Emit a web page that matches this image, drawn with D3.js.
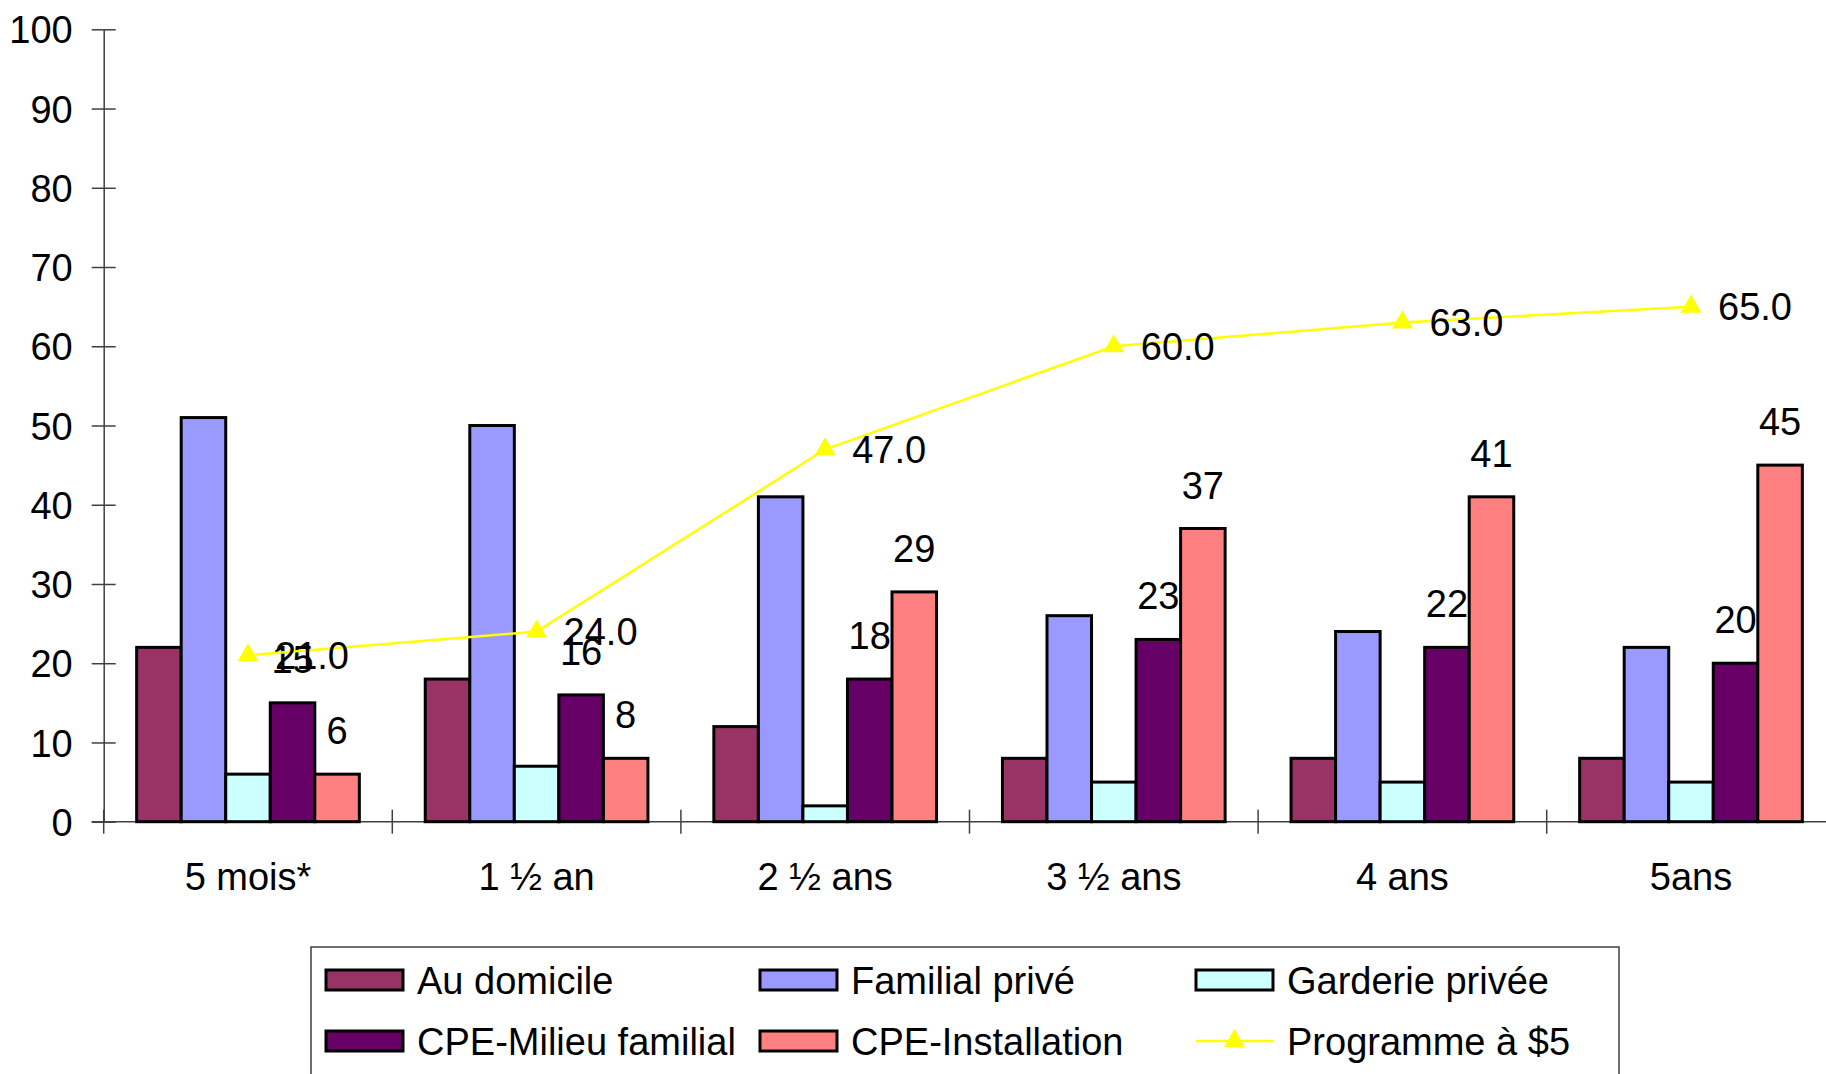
<!DOCTYPE html>
<html>
<head>
<meta charset="utf-8">
<script src="https://cdn.jsdelivr.net/npm/d3@7"></script>
<style>
  html, body { margin: 0; padding: 0; background: #fff; overflow: hidden; }
  svg { display: block; }
  text { font-family: "Liberation Sans", Arial, sans-serif; fill: #000; }
</style>
</head>
<body>
<svg id="chart" width="1826" height="1074"></svg>
<script>
// ---- Data ----
const categories = ["5 mois*", "1 ½ an", "2 ½ ans", "3 ½ ans", "4 ans", "5ans"];
const seriesNames = ["Au domicile", "Familial privé", "Garderie privée", "CPE-Milieu familial", "CPE-Installation"];
const auDomicile      = [22, 18, 12, 8, 8, 8];
const familialPrive   = [51, 50, 41, 26, 24, 22];
const garderiePrivee  = [6, 7, 2, 5, 5, 5];
const cpeMilieu       = [15, 16, 18, 23, 22, 20];
const cpeInstallation = [6, 8, 29, 37, 41, 45];
const lineName = "Programme à $5";
const programme5      = [21.0, 24.0, 47.0, 60.0, 63.0, 65.0];
const yTickValues     = [0, 10, 20, 30, 40, 50, 60, 70, 80, 90, 100];
const labelledSeries  = ["CPE-Milieu familial", "CPE-Installation"];

const barSeries = [auDomicile, familialPrive, garderiePrivee, cpeMilieu, cpeInstallation];
const colors = ["#993366", "#9999FF", "#CCFFFF", "#660066", "#FF8080"];
const lineColor = "#FFFF00";

// ---- Layout ----
const svg = d3.select("#chart");
const left = 103.7, step = 288.6;
const y = d3.scaleLinear().domain([0, 100]).range([821.7, 29.3]);
const x0 = d3.scaleBand().domain(categories).range([left, left + step * categories.length]).padding(0);
const x1 = d3.scaleBand().domain(seriesNames).range([0, x0.bandwidth()]).paddingInner(0).paddingOuter(0.74);
const FS = 38;

// ---- Y axis ----
const yAxis = d3.axisLeft(y).tickValues(yTickValues).tickSizeInner(12).tickSizeOuter(0).tickPadding(20);
const gy = svg.append("g").attr("transform", `translate(${left},0)`).call(yAxis);
gy.select(".domain").attr("stroke", "#404040").attr("stroke-width", 1.5);
gy.selectAll(".tick line").attr("x1", -12).attr("x2", 12).attr("stroke", "#404040").attr("stroke-width", 1.5);
gy.selectAll(".tick text").attr("font-size", FS).attr("font-family", "Liberation Sans, Arial, sans-serif")
  .attr("fill", "#000").attr("x", -31).attr("dy", "0.36em");

// ---- X axis ----
const gx = svg.append("g").attr("transform", `translate(0,${y(0)})`);
gx.append("line").attr("x1", left - 12).attr("x2", 1826 + 20).attr("y1", 0).attr("y2", 0)
  .attr("stroke", "#404040").attr("stroke-width", 1.5);
const boundaries = d3.range(categories.length + 1).map(i => x0.range()[0] + i * x0.step());
gx.selectAll("line.ctick").data(boundaries).join("line").attr("class", "ctick")
  .attr("x1", d => d).attr("x2", d => d).attr("y1", -12).attr("y2", 12)
  .attr("stroke", "#404040").attr("stroke-width", 1.5);
gx.selectAll("text.clab").data(categories).join("text").attr("class", "clab")
  .attr("x", d => x0(d) + x0.bandwidth() / 2).attr("y", 68)
  .attr("text-anchor", "middle").attr("font-size", FS).text(d => d);

// ---- Bars ----
const groups = svg.append("g").selectAll("g").data(categories).join("g")
  .attr("transform", d => `translate(${x0(d)},0)`);
groups.selectAll("rect").data((c, ci) => seriesNames.map((s, si) => ({ s, si, v: barSeries[si][ci] })))
  .join("rect")
  .attr("x", d => x1(d.s)).attr("width", x1.bandwidth())
  .attr("y", d => y(d.v)).attr("height", d => y(0) - y(d.v))
  .attr("fill", d => colors[d.si]).attr("stroke", "#000").attr("stroke-width", 3);

// ---- Line ----
const lineGen = d3.line().x((d, i) => x0(categories[i]) + x0.bandwidth() / 2).y(d => y(d));
svg.append("path").datum(programme5).attr("d", lineGen)
  .attr("fill", "none").attr("stroke", lineColor).attr("stroke-width", 2.5);
svg.append("g").selectAll("path").data(programme5).join("path")
  .attr("transform", (d, i) => `translate(${x0(categories[i]) + x0.bandwidth() / 2},${y(d)})`)
  .attr("d", d3.symbol(d3.symbolTriangle, 190)).attr("fill", lineColor);

// ---- Bar labels ----
groups.selectAll("text.blab").data((c, ci) => labelledSeries.map(s => {
    const si = seriesNames.indexOf(s); return { s, v: barSeries[si][ci] };
  }))
  .join("text").attr("class", "blab")
  .attr("x", d => x1(d.s) + x1.bandwidth() / 2).attr("y", d => y(d.v) - 30)
  .attr("text-anchor", "middle").attr("font-size", FS).text(d => d.v);

// ---- Line labels ----
svg.append("g").selectAll("text").data(programme5).join("text")
  .attr("x", (d, i) => x0(categories[i]) + x0.bandwidth() / 2 + 27)
  .attr("y", d => y(d)).attr("dy", "0.36em")
  .attr("font-size", FS).text(d => d.toFixed(1));

// ---- Legend ----
const lg = svg.append("g");
lg.append("rect").attr("x", 311).attr("y", 947).attr("width", 1308).attr("height", 200)
  .attr("fill", "#fff").attr("stroke", "#404040").attr("stroke-width", 1.5);
const legendItems = seriesNames.map((s, i) => ({ name: s, color: colors[i], type: "bar" }))
  .concat([{ name: lineName, color: lineColor, type: "line" }]);
const colX = [326, 760, 1196], rowY = [980, 1041];
const items = lg.selectAll("g.item").data(legendItems).join("g").attr("class", "item")
  .attr("transform", (d, i) => `translate(${colX[i % 3]},${rowY[Math.floor(i / 3)]})`);
items.filter(d => d.type === "bar").append("rect")
  .attr("x", 0).attr("y", -10).attr("width", 77).attr("height", 20)
  .attr("fill", d => d.color).attr("stroke", "#000").attr("stroke-width", 3);
const li = items.filter(d => d.type === "line");
li.append("line").attr("x1", 0).attr("x2", 77).attr("y1", 0).attr("y2", 0)
  .attr("stroke", lineColor).attr("stroke-width", 2.5);
li.append("path").attr("transform", "translate(38.5,0)").attr("d", d3.symbol(d3.symbolTriangle, 190)).attr("fill", lineColor);
items.append("text").attr("x", 91).attr("y", 0).attr("dy", "0.36em")
  .attr("font-size", FS).text(d => d.name);
</script>
</body>
</html>
